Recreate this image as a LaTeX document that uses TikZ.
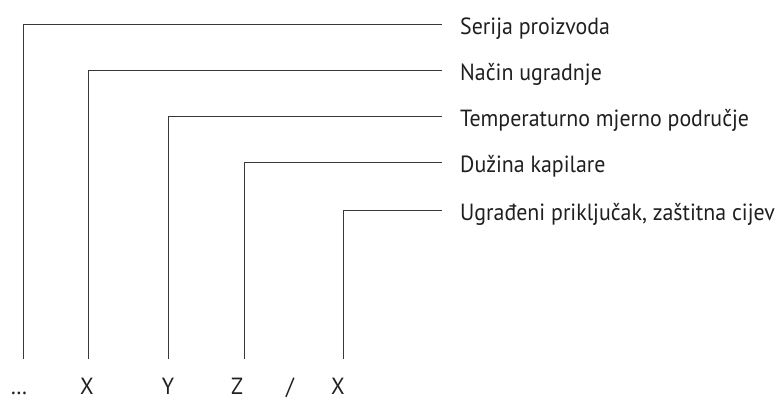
\documentclass[tikz,border=0pt]{standalone}
\usepackage{fontspec}
\setmainfont{PT Sans}[FakeStretch=0.935]
\usetikzlibrary{calc}
\begin{document}
\begin{tikzpicture}[x=1bp,y=-1bp,
  lead/.style={line width=0.9bp,black!78},
  lbl/.style={anchor=west,inner sep=0pt,text height=16.5bp,text depth=0pt,font=\fontsize{23.5}{28}\selectfont,text=black!88},
  code/.style={anchor=base,inner sep=0pt,font=\fontsize{23.5}{28}\selectfont,text=black!88}]
\useasboundingbox (0,0) rectangle (779,398);
\coordinate (F1) at (23,359);
\coordinate (F2) at (88,359);
\coordinate (F3) at (168.7,359);
\coordinate (F4) at (244.3,359);
\coordinate (F5) at (343.3,359);
\coordinate (E1) at (442,24.7);
\coordinate (E2) at (442,70.7);
\coordinate (E3) at (442,116.7);
\coordinate (E4) at (442,162.3);
\coordinate (E5) at (442,210.3);
\node[lbl] (serija) at ($(E1)+(18,2)$) {Serija proizvoda};
\node[lbl] (nacin) at ($(E2)+(18,2)$) {Način ugradnje};
\node[lbl] (temp) at ($(E3)+(18,2)$) {Temperaturno mjerno područje};
\node[lbl] (duzina) at ($(E4)+(18,2)$) {Dužina kapilare};
\node[lbl] (prikljucak) at ($(E5)+(18,2)$) {Ugrađeni priključak, zaštitna cijev};
\node[code] (dots) at (19,394) {\dots};
\node[code] (x1) at (87,394) {X};
\node[code] (y) at (168,394) {Y};
\node[code] (z) at (237,394) {Z};
\node[code] (sl) at (290,394) {/};
\node[code] (x2) at (338,394) {X};
\draw[lead] (F1) |- (E1);
\draw[lead] (F2) |- (E2);
\draw[lead] (F3) |- (E3);
\draw[lead] (F4) |- (E4);
\draw[lead] (F5) |- (E5);
\end{tikzpicture}
\end{document}
